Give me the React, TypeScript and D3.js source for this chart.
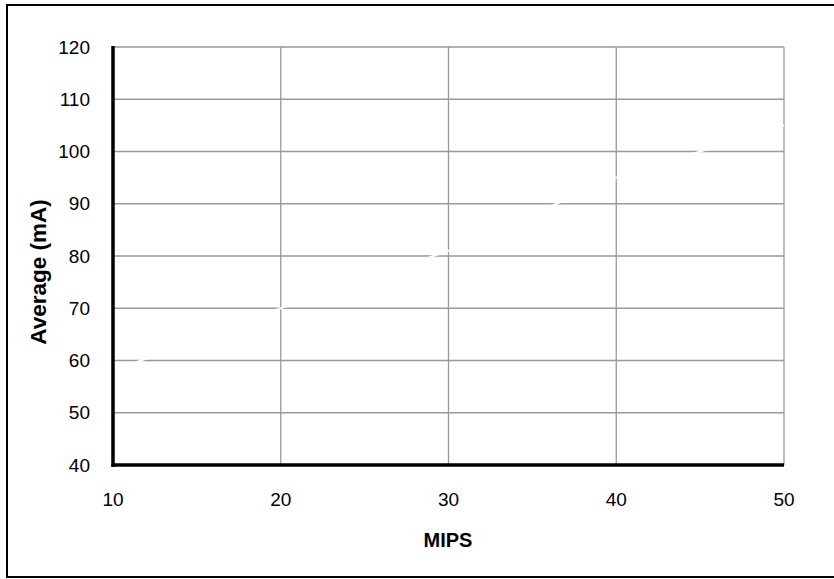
import React from "react";
import * as d3 from "d3";

const mips = [10, 20, 30, 40, 50];
const avgMa = [58, 70, 81, 95, 105];
const xTicks = [10, 20, 30, 40, 50];
const yTicks = [40, 50, 60, 70, 80, 90, 100, 110, 120];
const xTitle = "MIPS";
const yTitle = "Average (mA)";

export default function App() {
  const W = 834, H = 579;
  const left = 113, right = 784, top = 47, bottom = 465;
  const x = d3.scaleLinear().domain([10, 50]).range([left, right]);
  const y = d3.scaleLinear().domain([40, 120]).range([bottom, top]);
  const pts = mips.map((m, i) => [m, avgMa[i]] as [number, number]);
  const line = d3.line<[number, number]>().x(d => x(d[0])).y(d => y(d[1]));
  const font = "Liberation Sans, Arial, sans-serif";
  return (
    <svg width={W} height={H} style={{ position: "absolute", left: 0, top: 0, background: "#fff" }} fontFamily={font}>
      <rect x={7} y={5} width={850} height={572} fill="#fff" stroke="#000" strokeWidth={2} />
      {yTicks.map(t => (
        <line key={"gy" + t} x1={left} x2={right} y1={y(t)} y2={y(t)} stroke="#999" strokeWidth={1.3} />
      ))}
      {xTicks.map(t => (
        <line key={"gx" + t} x1={x(t)} x2={x(t)} y1={top} y2={bottom} stroke="#999" strokeWidth={1.3} />
      ))}
      <path d={line(pts) || ""} fill="none" stroke="#fff" strokeWidth={2} />
      <line x1={left} x2={left} y1={top - 1} y2={bottom + 2} stroke="#000" strokeWidth={3.5} />
      <line x1={left - 1.5} x2={right} y1={bottom} y2={bottom} stroke="#000" strokeWidth={3.5} />
      {yTicks.map(t => (
        <text key={"ty" + t} x={90} y={y(t)} textAnchor="end" dominantBaseline="central" fontSize={19}>{t}</text>
      ))}
      {xTicks.map(t => (
        <text key={"tx" + t} x={x(t)} y={499} textAnchor="middle" dominantBaseline="central" fontSize={19}>{t}</text>
      ))}
      <text x={448} y={547} textAnchor="middle" fontSize={20} fontWeight="bold">{xTitle}</text>
      <text transform={`translate(38,272) rotate(-90)`} textAnchor="middle" dominantBaseline="central" fontSize={22.5} fontWeight="bold">{yTitle}</text>
    </svg>
  );
}
